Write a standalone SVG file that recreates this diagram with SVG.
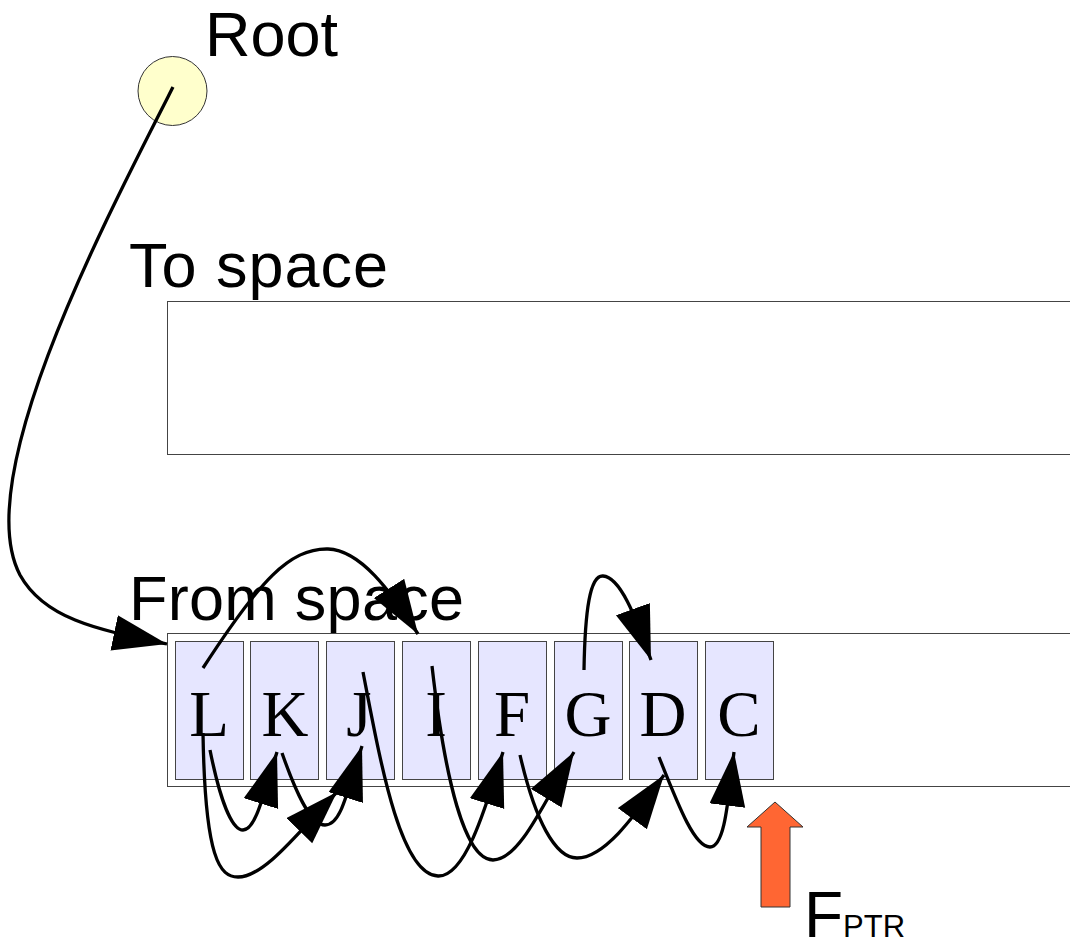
<svg xmlns="http://www.w3.org/2000/svg" width="1070" height="942" viewBox="0 0 1070 942">
<defs>
<style>
.lbl{font-family:"Liberation Sans",Arial,sans-serif;fill:#000}
.big{font-size:63px}
.cell{fill:#e6e6ff;stroke:#444;stroke-width:1}
.cl{font-family:"Liberation Serif","Times New Roman",serif;font-size:65px;text-anchor:middle;fill:#000}
.space{fill:#fff;stroke:#444;stroke-width:1}
.conn{fill:none;stroke:#000;stroke-width:3.3;marker-end:url(#ah)}
</style>
<marker id="ah" markerUnits="userSpaceOnUse" markerWidth="56" markerHeight="38" refX="54" refY="18" orient="auto" viewBox="0 0 56 38">
<path d="M0,0 L54,18 L0,36 z" fill="#000"/>
</marker>
</defs>
<rect width="1070" height="942" fill="#fff"/>
<g id="root">
<circle cx="172.5" cy="91" r="34.5" fill="#ffffcc" stroke="#333" stroke-width="1"/>
<text class="lbl big" x="205" y="56">Root</text>
</g>
<g id="to-space">
<text class="lbl big" x="129" y="287" textLength="259">To space</text>
<rect class="space" x="167.5" y="301.5" width="910" height="153"/>
</g>
<g id="from-space">
<text class="lbl big" x="129" y="620" textLength="335">From space</text>
<rect class="space" x="167.5" y="633.5" width="910" height="153"/>
</g>
<g id="L"><rect class="cell" x="175.5" y="641.5" width="68" height="138"/><text class="cl" x="209" y="736">L</text></g>
<g id="K"><rect class="cell" x="250.5" y="641.5" width="68" height="138"/><text class="cl" x="285" y="736">K</text></g>
<g id="J"><rect class="cell" x="326.5" y="641.5" width="68" height="138"/><text class="cl" x="359" y="736">J</text></g>
<g id="I"><rect class="cell" x="402.5" y="641.5" width="68" height="138"/><text class="cl" x="436" y="736">I</text></g>
<g id="F"><rect class="cell" x="478.5" y="641.5" width="68" height="138"/><text class="cl" x="512" y="736">F</text></g>
<g id="G"><rect class="cell" x="554.5" y="641.5" width="68" height="138"/><text class="cl" x="588" y="736">G</text></g>
<g id="D"><rect class="cell" x="629.5" y="641.5" width="68" height="138"/><text class="cl" x="663" y="736">D</text></g>
<g id="C"><rect class="cell" x="705.5" y="641.5" width="68" height="138"/><text class="cl" x="739" y="736">C</text></g>
<g id="fptr">
<polygon points="775,802 803,827 790,827 790,907 761,907 761,827 747,827" fill="#ff6633" stroke="#333" stroke-width="1"/>
<text class="lbl" x="804" y="937" font-size="64">F<tspan font-size="31">PTR</tspan></text>
</g>
<g id="connectors">
<path class="conn" d="M173,87 C100,230 -30,480 20,575 C45,620 100,630 167,644"/>
<path class="conn" d="M203,668 C260,580 290,548 328,549 C360,550 390,590 418,634"/>
<path class="conn" d="M584,670 C585,610 590,575 603,576 C620,577 635,615 651,660"/>
<path class="conn" d="M210,750 C220,800 232,830 243,830 C255,830 262,800 277,752"/>
<path class="conn" d="M203,733 C205,860 220,877 238,877 C265,877 300,830 337,792"/>
<path class="conn" d="M282,753 C295,790 310,825 325,825 C340,825 345,800 362,746"/>
<path class="conn" d="M363,672 C380,760 400,875 438,876 C465,877 485,810 503,752"/>
<path class="conn" d="M432,666 C445,780 465,860 493,860 C520,860 545,800 574,752"/>
<path class="conn" d="M520,755 C535,820 555,858 577,858 C605,858 635,815 664,775"/>
<path class="conn" d="M659,757 C680,810 695,847 710,847 C725,847 728,800 734,752"/>
</g>
</svg>
